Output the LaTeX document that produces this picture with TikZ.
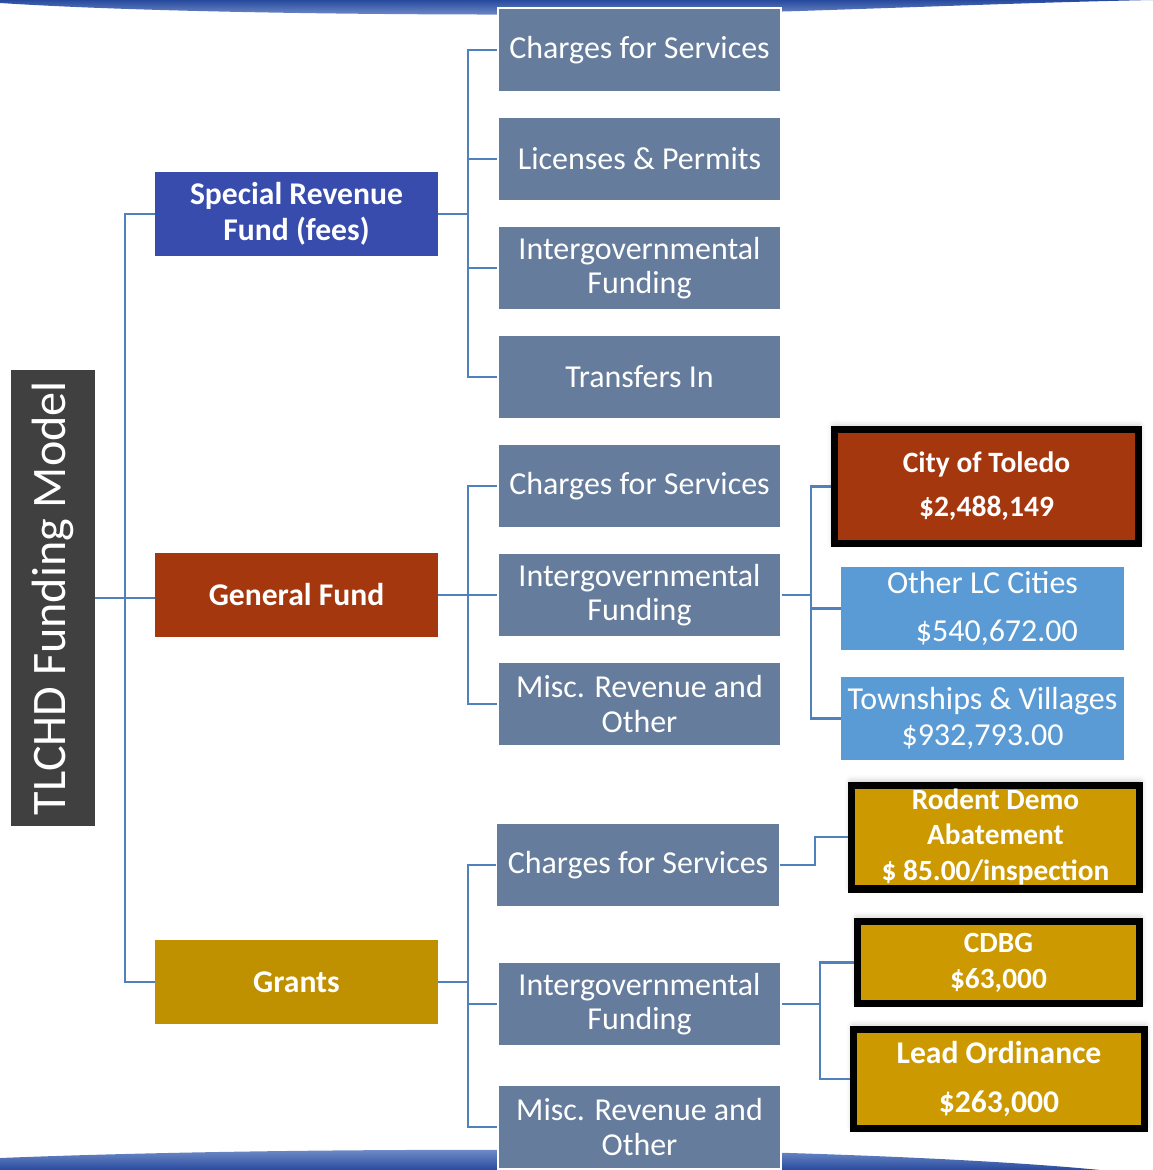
\documentclass[tikz,border=0pt]{standalone}
\usepackage{fontspec}
\setmainfont{Carlito}
\usetikzlibrary{shadows.blur}

\definecolor{slate}{RGB}{101,124,156}
\definecolor{fundblue}{RGB}{56,76,173}
\definecolor{rust}{RGB}{165,55,15}
\definecolor{darkgold}{RGB}{191,144,0}
\definecolor{gold}{RGB}{204,153,0}
\definecolor{skyblue}{RGB}{91,155,213}
\definecolor{linkblue}{RGB}{79,129,189}
\definecolor{titlegray}{RGB}{64,64,64}
\definecolor{banddark}{RGB}{40,74,158}
\definecolor{bandlight}{RGB}{120,148,205}

\tikzset{
    link/.style={draw=linkblue, line width=1.2pt},
    box/.style={text=white, inner sep=0pt, align=center},
    fund/.style={box, minimum width=5.66cm, minimum height=1.68cm,
        font=\bfseries\fontsize{18}{20.4}\selectfont},
    source/.style={box, fill=slate, draw=white, line width=0.8pt,
        minimum width=5.66cm, minimum height=1.68cm,
        font=\fontsize{18.2}{19.5}\selectfont},
    amount/.style={box, fill=skyblue, minimum width=5.66cm, minimum height=1.66cm},
    keybox/.style={box, draw=black, line width=4pt,
        blur shadow={shadow xshift=0pt, shadow yshift=1.5pt,
            shadow blur radius=4pt, shadow opacity=30},
        font=\bfseries\fontsize{16.7}{20.4}\selectfont},
}

\begin{document}
\begin{tikzpicture}[x=0.02cm, y=-0.02cm]
    \useasboundingbox (0,0) rectangle (1153,1170);

    % top and bottom bands
    \shade[top color=banddark, bottom color=bandlight]
        (0,0) -- (0,3) .. controls (200,16) and (600,17) .. (800,11)
        .. controls (950,6) and (1050,2) .. (1153,0) -- cycle;
    \shade[top color=bandlight, bottom color=banddark]
        (0,1170) -- (0,1158) .. controls (200,1150) and (500,1147) .. (790,1153)
        .. controls (950,1158) and (1050,1165) .. (1100,1170) -- cycle;

    \node[box, fill=titlegray, minimum width=1.68cm, minimum height=9.12cm,
        font=\fontsize{27.4}{30}\selectfont] (title) at (53,598)
        {\rotatebox{90}{TLCHD Funding Model}};

    \node[fund, fill=fundblue] (srf) at (296.5,214) {Special Revenue\\Fund (fees)};
    \node[fund, fill=rust] (gen) at (296.5,595) {General Fund};
    \node[fund, fill=darkgold] (grants) at (296.5,982) {Grants};

    \node[source] (s1) at (639.5,50) {Charges for Services};
    \node[source] (s2) at (639.5,159) {Licenses \& Permits};
    \node[source] (s3) at (639.5,268) {Intergovernmental\\Funding};
    \node[source] (s4) at (639.5,377) {Transfers In};

    \node[source] (g1) at (639.5,486) {Charges for Services};
    \node[source] (g2) at (639.5,595) {Intergovernmental\\Funding};
    \node[source] (g3) at (639.5,704) {Misc. Revenue and\\Other};

    \node[source] (r1) at (638,865) {Charges for Services};
    \node[source] (r2) at (639.5,1004) {Intergovernmental\\Funding};
    \node[source] (r3) at (639.5,1127) {Misc. Revenue and\\Other};

    \node[keybox, fill=rust, minimum width=6.08cm, minimum height=2.28cm,
        font=\bfseries\fontsize{16.8}{25}\selectfont] (toledo) at (986.5,486.5)
        {City of Toledo\\\$2,488,149};
    \node[amount, font=\fontsize{18.2}{27}\selectfont] (lccities) at (982.5,608.5)
        {Other LC Cities\\\hspace*{0.9em}\$540,672.00};
    \node[amount, font=\fontsize{18.2}{20}\selectfont] (townships) at (982.5,718.5)
        {Townships \& Villages\\\$932,793.00};

    \node[keybox, fill=gold, minimum width=5.76cm, minimum height=2.08cm] (rodent)
        at (995.5,837) {Rodent Demo\\Abatement\\\$ 85.00/inspection};
    \node[keybox, fill=gold, minimum width=5.64cm, minimum height=1.64cm] (cdbg)
        at (998.5,962.5) {CDBG\\\$63,000};
    \node[keybox, fill=gold, minimum width=5.82cm, minimum height=1.98cm,
        font=\bfseries\fontsize{18}{28}\selectfont] (lead) at (999,1079)
        {Lead Ordinance\\\$263,000};

    % connectors
    \draw[link] (title.east) -- (title.east -| gen.west);
    \draw[link] (srf.west) -- ++(-30,0) |- (grants.west);

    \draw[link] (srf.east) -- ++(30,0) coordinate (f1);
    \foreach \c in {s1,s2,s3,s4}
        \draw[link] (f1) |- (\c.west);

    \draw[link] (gen.east) -- ++(30,0) coordinate (f2);
    \foreach \c in {g1,g2,g3}
        \draw[link] (f2) |- (\c.west);

    \draw[link] (grants.east) -- ++(30,0) coordinate (f3);
    \foreach \c in {r1,r2,r3}
        \draw[link] (f3) |- (\c.west);

    \draw[link] (g2.east) -- ++(29,0) coordinate (f4);
    \foreach \c in {toledo,lccities,townships}
        \draw[link] (f4) |- (\c.west);

    \draw[link] (r1.east) -- ++(35,0) |- (rodent.west);

    \draw[link] (r2.east) -- ++(38,0) coordinate (f5);
    \foreach \c in {cdbg,lead}
        \draw[link] (f5) |- (\c.west);
\end{tikzpicture}
\end{document}
